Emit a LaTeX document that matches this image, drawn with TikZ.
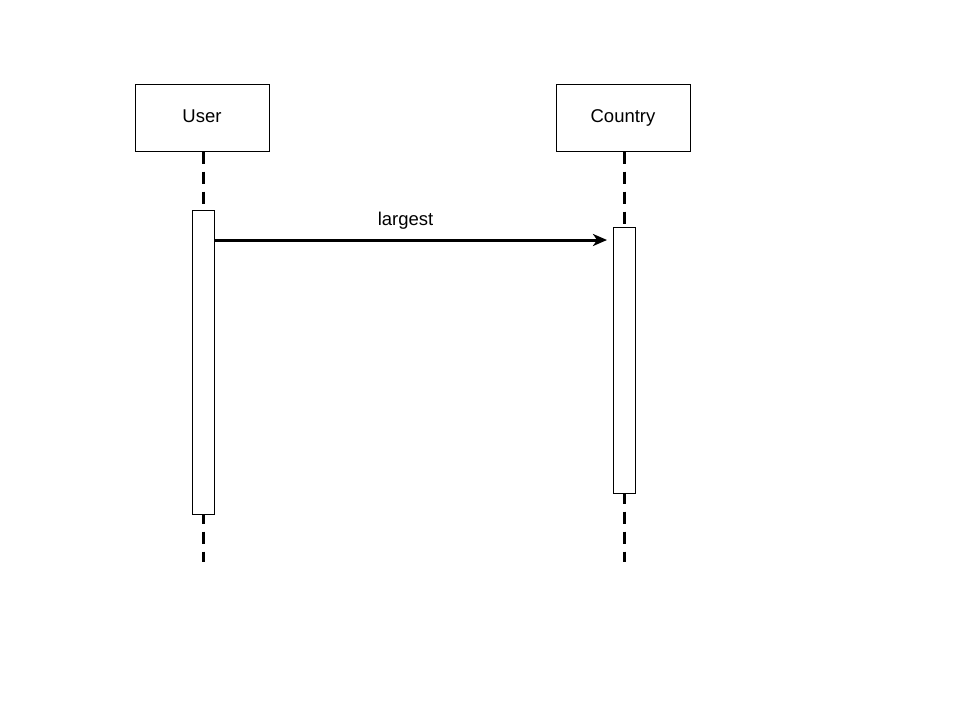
\documentclass[tikz,border=0pt]{standalone}
\usepackage{fontspec}
\setmainfont{Liberation Sans}
\usetikzlibrary{arrows.meta}
\tikzset{actor/.style={draw=black, fill=white, line width=1pt, minimum width=134pt, minimum height=67pt, inner sep=0pt, text height=13pt, text depth=4pt, font=\fontsize{18.5}{22}\selectfont},
%activation bar on a lifeline
activation/.style={draw=black, fill=white, line width=1pt, minimum width=22pt, inner sep=0pt, outer sep=0pt},
lifeline/.style={line width=3pt, dash pattern=on 12pt off 8pt}}

\begin{document}
\begin{tikzpicture}[x=1pt,y=-1pt]
\useasboundingbox (0,0) rectangle (960,720);
% actors
\node[actor] (user) at (202,117.5) {User};
\node[actor] (country) at (623,117.5) {Country};

% lifelines
\coordinate (userend) at (203,562);
\coordinate (countryend) at (624,562);
\draw[lifeline] (user.south -| userend) -- (userend);
\draw[lifeline] (country.south -| countryend) -- (countryend);

% activations
\node[activation, minimum height=304pt] (useract) at (203,362) {};
\node[activation, minimum height=266pt] (countryact) at (624,360) {};

% message
\coordinate (msg) at (0,240);
\draw[-{Stealth[length=14pt,width=12pt,inset=4pt]}, line width=3pt, shorten >=6pt] (useract.east |- msg) -- (countryact.west |- msg)
  node[pos=0.48, above=6pt, font=\fontsize{18.5}{22}\selectfont]{largest};

\end{tikzpicture}
\end{document}
